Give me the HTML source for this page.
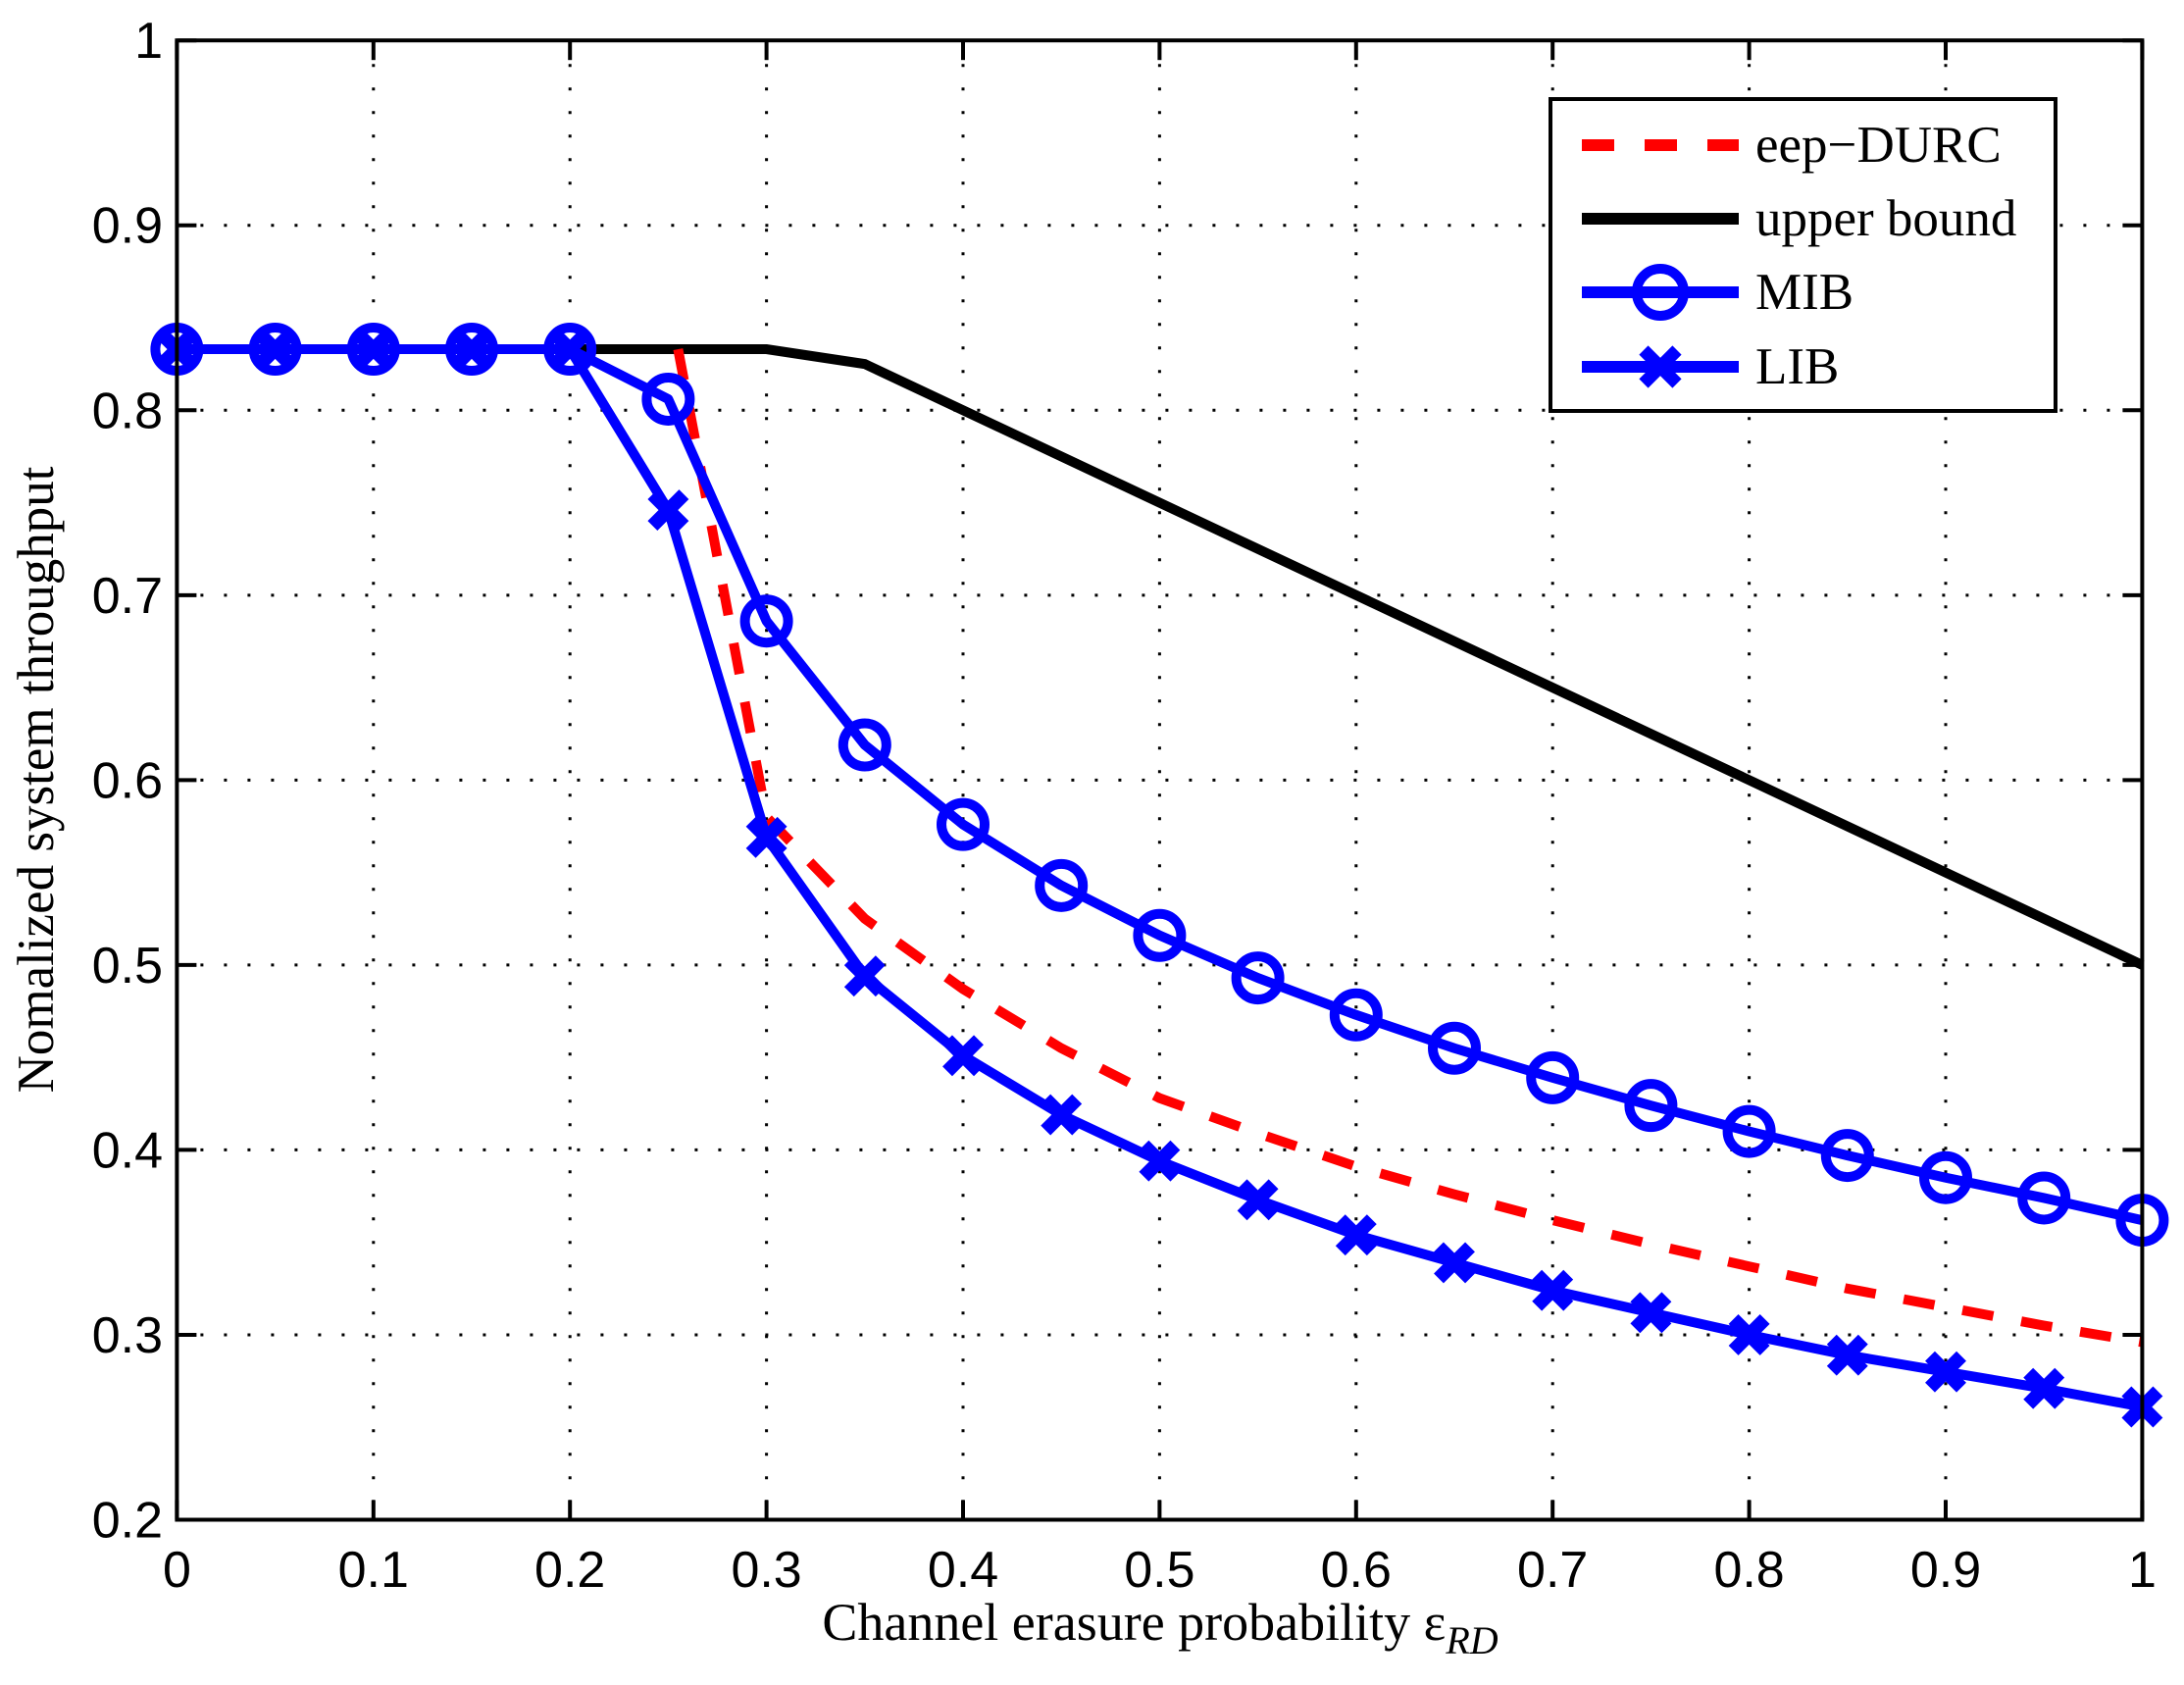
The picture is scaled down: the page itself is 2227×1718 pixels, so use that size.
<!DOCTYPE html>
<html><head><meta charset="utf-8"><style>
html,body{margin:0;padding:0;background:#fff}
svg{display:block}
</style></head><body>
<svg id="chart" width="2227" height="1718" viewBox="0 0 2227 1718" xmlns="http://www.w3.org/2000/svg">
<rect width="2227" height="1718" fill="#fff"/>
<g id="grid"></g>
<g id="series"></g>
<g id="axes"></g>
<text x="1183" y="1672" font-family="Liberation Serif, serif" font-size="54" text-anchor="middle">Channel erasure probability ε<tspan font-style="italic" font-size="40" dy="14">RD</tspan></text>
<text transform="translate(54,795) rotate(-90)" font-family="Liberation Serif, serif" font-size="53" text-anchor="middle">Nomalized system throughput</text>
<g id="legend">
<rect x="1581" y="101" width="515" height="318" fill="#fff" stroke="#000" stroke-width="4"/>
<g>
<line x1="1613" y1="148" x2="1773" y2="148" stroke="#f00" stroke-width="12" stroke-dasharray="33,31"/>
<text x="1790" y="165" font-family="Liberation Serif, serif" font-size="53">eep−DURC</text></g>
<g>
<line x1="1613" y1="223" x2="1773" y2="223" stroke="#000" stroke-width="12"/>
<text x="1790" y="240" font-family="Liberation Serif, serif" font-size="53">upper bound</text></g>
<g>
<line x1="1613" y1="298" x2="1773" y2="298" stroke="#00f" stroke-width="12"/>
<circle cx="1693" cy="298" r="24" fill="none" stroke="#00f" stroke-width="10"/>
<text x="1790" y="315" font-family="Liberation Serif, serif" font-size="53">MIB</text></g>
<g>
<line x1="1613" y1="374" x2="1773" y2="374" stroke="#00f" stroke-width="12"/>
<path d="M1676 357L1710 391M1710 357L1676 391" stroke="#00f" stroke-width="13"/>
<text x="1790" y="391" font-family="Liberation Serif, serif" font-size="53">LIB</text></g>
</g>
</svg>
<script>
const xTicks = [0,0.1,0.2,0.3,0.4,0.5,0.6,0.7,0.8,0.9,1];
const xTickLabels = ["0","0.1","0.2","0.3","0.4","0.5","0.6","0.7","0.8","0.9","1"];
const yTicks = [0.2,0.3,0.4,0.5,0.6,0.7,0.8,0.9,1];
const yTickLabels = ["0.2","0.3","0.4","0.5","0.6","0.7","0.8","0.9","1"];
const xMarks = [0,0.05,0.1,0.15,0.2,0.25,0.3,0.35,0.4,0.45,0.5,0.55,0.6,0.65,0.7,0.75,0.8,0.85,0.9,0.95,1];
const mibValues = [0.833,0.833,0.833,0.833,0.833,0.806,0.686,0.619,0.576,0.543,0.516,0.493,0.473,0.455,0.439,0.424,0.410,0.397,0.385,0.374,0.362];
const libValues = [0.833,0.833,0.833,0.833,0.833,0.746,0.569,0.494,0.451,0.419,0.394,0.373,0.354,0.339,0.324,0.312,0.300,0.289,0.280,0.271,0.261];
const eepX = [0.255,0.3,0.35,0.4,0.45,0.5,0.55,0.6,0.65,0.7,0.75,0.8,0.85,0.9,0.95,1];
const eepValues = [0.833,0.58,0.525,0.487,0.455,0.428,0.409,0.391,0.376,0.362,0.349,0.337,0.325,0.315,0.305,0.296];
const upperX = [0,0.3,0.35,1];
const upperValues = [0.833,0.833,0.825,0.5];

const L=180.4,R=2184.4,T=41.2,B=1549.5;
const sx=v=>L+(R-L)*v;
const sy=v=>B-(B-T)*(v-0.2)/0.8;
const NS="http://www.w3.org/2000/svg";
function mk(tag,parent,attrs){const e=document.createElementNS(NS,tag);for(const k in attrs)e.setAttribute(k,attrs[k]);parent.appendChild(e);return e;}
const grid=document.getElementById('grid'),axes=document.getElementById('axes'),ser=document.getElementById('series');

xTicks.forEach((v,i)=>{
  const x=sx(v);
  if(i>0&&i<xTicks.length-1){const g=mk('line',grid,{x1:x,y1:T,x2:x,y2:B,stroke:'#000','stroke-width':3,'stroke-dasharray':'3,21'});
  
  }
  const t1=mk('line',axes,{x1:x,y1:B,x2:x,y2:B-20,stroke:'#000','stroke-width':4});
  
  
  const t2=mk('line',axes,{x1:x,y1:T,x2:x,y2:T+20,stroke:'#000','stroke-width':4});
  
  
  const lb=mk('text',axes,{x:x,y:1618,'font-family':'Liberation Sans, sans-serif','font-size':52,'text-anchor':'middle'});
  lb.textContent=xTickLabels[i];
  
  
});
yTicks.forEach((v,i)=>{
  const y=sy(v);
  if(i>0&&i<yTicks.length-1){const g=mk('line',grid,{x1:L,y1:y,x2:R,y2:y,stroke:'#000','stroke-width':3,'stroke-dasharray':'3,21'});
  
  }
  const t1=mk('line',axes,{x1:L,y1:y,x2:L+20,y2:y,stroke:'#000','stroke-width':4});
  
  
  const t2=mk('line',axes,{x1:R,y1:y,x2:R-20,y2:y,stroke:'#000','stroke-width':4});
  
  
  const lb=mk('text',axes,{x:166,y:y+18,'font-family':'Liberation Sans, sans-serif','font-size':52,'text-anchor':'end'});
  lb.textContent=yTickLabels[i];
  
  
});
const frame=mk('rect',axes,{x:L,y:T,width:R-L,height:B-T,fill:'none',stroke:'#000','stroke-width':4});



function pts(xs,ys){return xs.map((x,i)=>sx(x)+','+sy(ys[i])).join(' ');}
const ub=mk('polyline',ser,{points:pts(upperX,upperValues),fill:'none',stroke:'#000','stroke-width':10});


const eep=mk('polyline',ser,{points:pts(eepX,eepValues),fill:'none',stroke:'#f00','stroke-width':10,'stroke-dasharray':'32,29'});


const lib=mk('polyline',ser,{points:pts(xMarks,libValues),fill:'none',stroke:'#00f','stroke-width':10,'stroke-linejoin':'round'});


const mib=mk('polyline',ser,{points:pts(xMarks,mibValues),fill:'none',stroke:'#00f','stroke-width':10,'stroke-linejoin':'round'});


xMarks.forEach((x,i)=>{
  const cx=sx(x),cy=sy(libValues[i]);
  const m=mk('path',ser,{d:`M${cx-16} ${cy-16}L${cx+16} ${cy+16}M${cx+16} ${cy-16}L${cx-16} ${cy+16}`,stroke:'#00f','stroke-width':14});
  
  
});
xMarks.forEach((x,i)=>{
  const c=mk('circle',ser,{cx:sx(x),cy:sy(mibValues[i]),r:22,fill:'none',stroke:'#00f','stroke-width':10});
  
  
});
</script>
</body></html>
